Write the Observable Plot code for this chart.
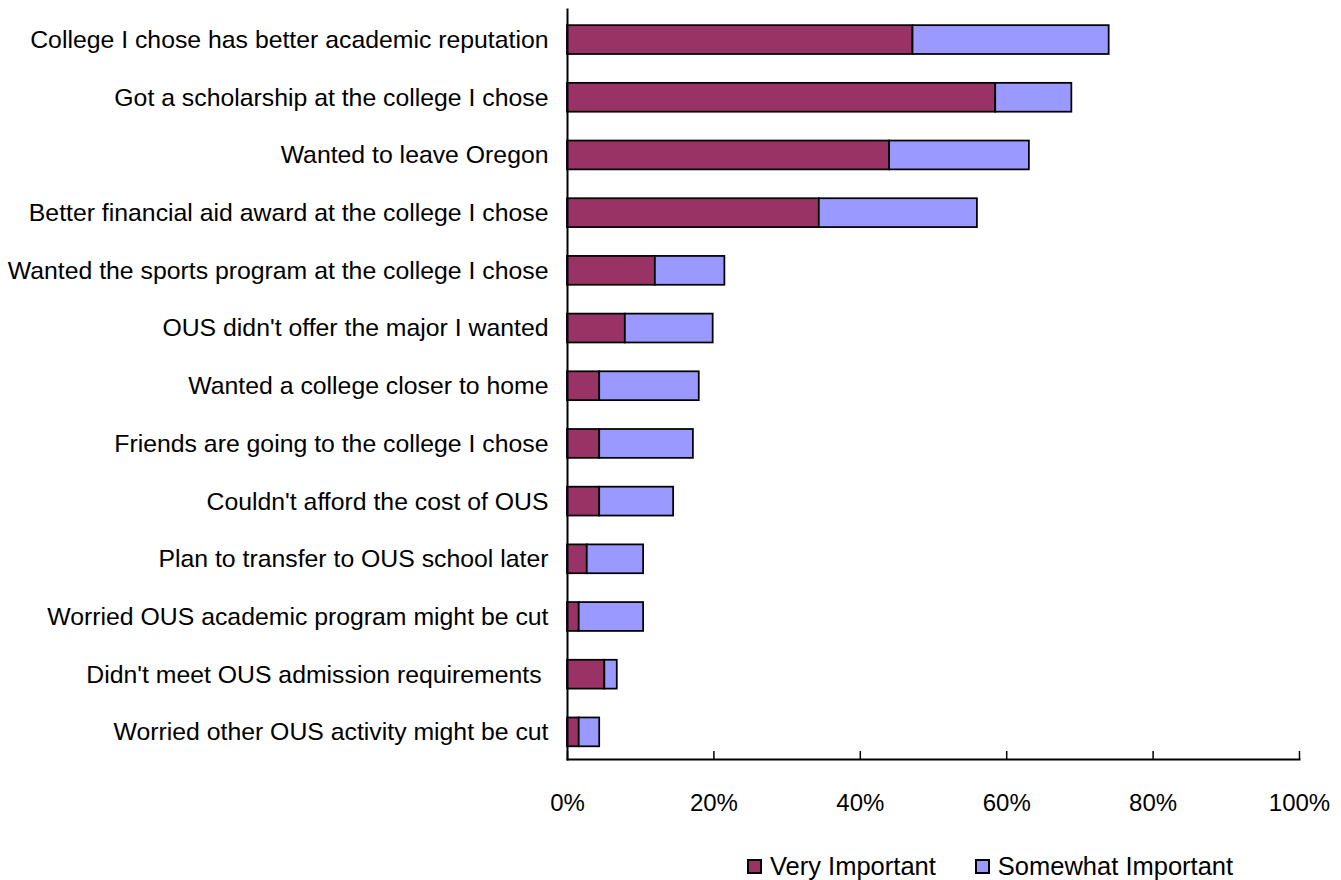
<!DOCTYPE html>
<html>
<head>
<meta charset="utf-8">
<script src="https://cdn.jsdelivr.net/npm/d3@7"></script>
<script src="https://cdn.jsdelivr.net/npm/@observablehq/plot@0.6"></script>
<style>
  html, body { margin: 0; padding: 0; background: #fff; }
  body { width: 1341px; height: 880px; overflow: hidden; font-family: "Liberation Sans", Arial, sans-serif; }
  #chart svg text { white-space: pre; }
  #legend { display: flex; align-items: center; padding-top: 22px; padding-left: 747px; height: 28px; font-size: 25.5px; color: #000; }
  .item { display: flex; align-items: center; margin-right: 39px; }
  .sw { width: 15px; height: 15px; box-sizing: border-box; border: 2px solid #000; margin-right: 8px; }
</style>
</head>
<body>
<div id="chart"></div>
<div id="legend"></div>
<script>
const categories = [
  "College I chose has better academic reputation",
  "Got a scholarship at the college I chose",
  "Wanted to leave Oregon",
  "Better financial aid award at the college I chose",
  "Wanted the sports program at the college I chose",
  "OUS didn't offer the major I wanted",
  "Wanted a college closer to home",
  "Friends are going to the college I chose",
  "Couldn't afford the cost of OUS",
  "Plan to transfer to OUS school later",
  "Worried OUS academic program might be cut",
  "Didn't meet OUS admission requirements ",
  "Worried other OUS activity might be cut"
];
const veryImportant =     [47.2, 58.5, 44.0, 34.4, 12.0, 7.9, 4.4, 4.4, 4.4, 2.7, 1.6, 5.1, 1.6];
const somewhatImportant = [26.8, 10.4, 19.1, 21.6,  9.5, 12.0, 13.6, 12.8, 10.1, 7.7, 8.8, 1.7, 2.8];
const seriesNames = ["Very Important", "Somewhat Important"];
const seriesColors = ["#993366", "#9999FF"];
const xTicks = [0, 20, 40, 60, 80, 100];

const rows = [];
categories.forEach((c, i) => {
  rows.push({category: c, series: seriesNames[0], value: veryImportant[i]});
  rows.push({category: c, series: seriesNames[1], value: somewhatImportant[i]});
});

const chart = Plot.plot({
  width: 1341,
  height: 830,
  marginLeft: 567,
  marginRight: 42,
  marginTop: 9,
  marginBottom: 71,
  style: {fontFamily: "Liberation Sans, Arial, sans-serif", fontSize: "24px", color: "#000", background: "#fff"},
  x: {domain: [0, 100], ticks: xTicks},
  y: {domain: categories, paddingInner: 0.5, paddingOuter: 0.25, align: 0.56, round: false},
  color: {domain: seriesNames, range: seriesColors},
  marks: [
    Plot.barX(rows, {x: "value", y: "category", fill: "series", stroke: "#000", strokeWidth: 1.75}),
    Plot.axisY({tickSize: 0, tickPadding: 19, label: null, fontSize: 24.8}),
    Plot.axisX({ticks: xTicks, tickSize: -8, tickPadding: 42, tickFormat: d => d + "%", label: null, fontSize: 24, strokeWidth: 1.5}),
    Plot.frame({anchor: "left", strokeWidth: 2}),
    Plot.frame({anchor: "bottom", strokeWidth: 2})
  ]
});
document.getElementById("chart").appendChild(chart);

const legend = document.getElementById("legend");
seriesNames.forEach((s, i) => {
  const item = document.createElement("div");
  item.className = "item";
  const sw = document.createElement("div");
  sw.className = "sw";
  sw.style.background = seriesColors[i];
  const t = document.createElement("span");
  t.textContent = s;
  item.appendChild(sw);
  item.appendChild(t);
  legend.appendChild(item);
});
</script>
</body>
</html>
